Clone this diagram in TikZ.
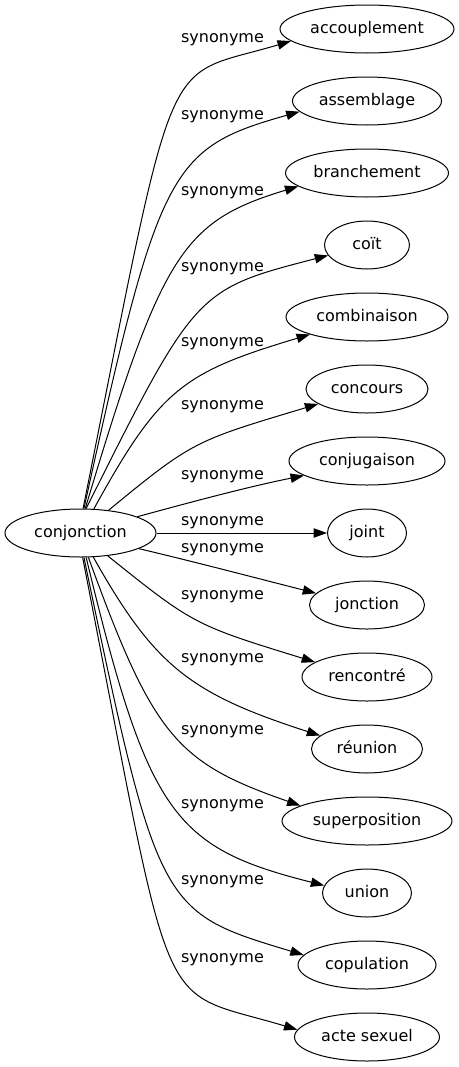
\documentclass[tikz,border=0pt]{standalone}
\usepackage{fontspec}
\setmainfont{DejaVu Sans}
\usetikzlibrary{shapes.geometric,arrows.meta}

\tikzset{
  word/.style={ellipse,draw,line width=0.75pt,inner sep=0pt,minimum height=36pt,
    text height=9pt,text depth=3pt,font=\fontsize{12}{14}\selectfont},
  rel/.style={inner sep=0pt,font=\fontsize{12}{14}\selectfont},
  syn/.style={-{Triangle[length=10pt,width=7pt]},line width=0.75pt}
}

\begin{document}
\begin{tikzpicture}[x=0.75pt,y=-0.75pt]
\useasboundingbox (0,0) rectangle (459,1067);

\node[word,minimum width=113.25pt] (conj) at (80.5,533) {conjonction};

\node[word,minimum width=130.5pt] (acc) at (367,29) {accouplement};
\node[word,minimum width=111.75pt] (ass) at (367,101) {assemblage};
\node[word,minimum width=122.25pt] (bra) at (367,173) {branchement};
\node[word,minimum width=63.75pt] (coi) at (367,245) {coït};
\node[word,minimum width=121.5pt] (com) at (367,317) {combinaison};
\node[word,minimum width=91.5pt] (conc) at (367,389) {concours};
\node[word,minimum width=117pt] (conjug) at (367,461) {conjugaison};
\node[word,minimum width=59.25pt] (joint) at (367,533) {joint};
\node[word,minimum width=86.25pt] (jonc) at (367,605) {jonction};
\node[word,minimum width=97.5pt] (renc) at (367,677) {rencontré};
\node[word,minimum width=83.25pt] (reun) at (367,749) {réunion};
\node[word,minimum width=127.5pt] (sup) at (367,821) {superposition};
\node[word,minimum width=66.75pt] (uni) at (367,893) {union};
\node[word,minimum width=103.5pt] (cop) at (367,965) {copulation};
\node[word,minimum width=108.75pt] (act) at (367,1037) {acte sexuel};

\node[rel] (l1) at (222.5,40) {synonyme};
\node[rel] (l2) at (222.5,116.7) {synonyme};
\node[rel] (l3) at (222.5,192.7) {synonyme};
\node[rel] (l4) at (222.5,268.3) {synonyme};
\node[rel] (l5) at (222.5,343.3) {synonyme};
\node[rel] (l6) at (222.5,406.7) {synonyme};
\node[rel] (l7) at (222.5,476.7) {synonyme};
\node[rel] (l8) at (222.5,522.7) {synonyme};
\node[rel] (l9) at (222.5,550) {synonyme};
\node[rel] (l10) at (222.5,596.7) {synonyme};
\node[rel] (l11) at (222.5,659.3) {synonyme};
\node[rel] (l12) at (222.5,731.7) {synonyme};
\node[rel] (l13) at (222.5,805.7) {synonyme};
\node[rel] (l14) at (222.5,881.7) {synonyme};
\node[rel] (l15) at (222.5,959.3) {synonyme};

\draw[syn] (conj.84) .. controls +(95,-475) and +(-131,39) .. (acc.189);
\draw[syn] (conj.82) .. controls +(75,-341) and +(-130,36.5) .. (ass.189);
\draw[syn] (conj.79) .. controls +(76.5,-255) and +(-116,35) .. (bra.191);
\draw[syn] (conj.77) .. controls +(109,-218) and +(-132,34) .. (coi.195);
\draw[syn] (conj.61) .. controls +(66,-120) and +(-127,38) .. (com.197);
\draw[syn] (conj.39) .. controls +(85,-70) and +(-123,37) .. (conc.197);
\draw[syn] (conj.16) .. controls +(55,-15) and +(-55,11) .. (conjug.193);
\draw[syn] (conj) -- (joint);
\draw[syn] (conj.-15) .. controls +(59,14) and +(-59,-15) .. (jonc.167);
\draw[syn] (conj.-40) .. controls +(86,69) and +(-120,-37) .. (renc.164);
\draw[syn] (conj.-62) .. controls +(61,108.5) and +(-130.5,-42) .. (reun.164);
\draw[syn] (conj.-72) .. controls +(65,179) and +(-124,-43) .. (sup.167);
\draw[syn] (conj.-77) .. controls +(62,256.5) and +(-151,-38) .. (uni.170);
\draw[syn] (conj.-82) .. controls +(74,354) and +(-143,-43) .. (cop.171);
\draw[syn] (conj.-85) .. controls +(93,476) and +(-144,-43) .. (act.174);
\end{tikzpicture}
\end{document}
